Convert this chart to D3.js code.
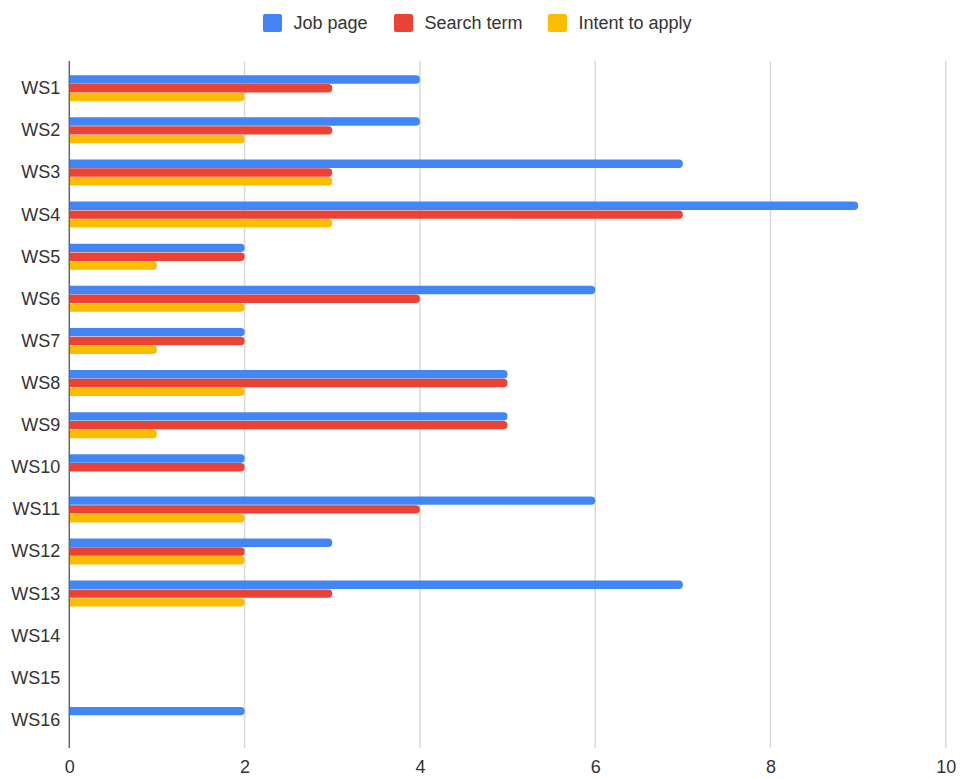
<!DOCTYPE html>
<html>
<head>
<meta charset="utf-8">
<script src="https://cdn.jsdelivr.net/npm/d3@7"></script>
<style>
  body { margin: 0; background: #fff; }
  text { font-family: Arial, "Liberation Sans", sans-serif; }
</style>
</head>
<body>
<svg width="961" height="779"></svg>
<script>
"use strict";

// Chart data
var categories = ["WS1", "WS2", "WS3", "WS4", "WS5", "WS6", "WS7", "WS8",
                  "WS9", "WS10", "WS11", "WS12", "WS13", "WS14", "WS15", "WS16"];
var seriesNames = ["Job page", "Search term", "Intent to apply"];
var jobPage     = [4, 4, 7, 9, 2, 6, 2, 5, 5, 2, 6, 3, 7, 0, 0, 2];
var searchTerm  = [3, 3, 3, 7, 2, 4, 2, 5, 5, 2, 4, 2, 3, 0, 0, 0];
var intentApply = [2, 2, 3, 3, 1, 2, 1, 2, 1, 0, 2, 2, 2, 0, 0, 0];
var xTicks = [0, 2, 4, 6, 8, 10];
var colors = ["#4285f4", "#ea4335", "#fbbc04"];

var svg = d3.select("svg");

// Scales
var xScale = d3.scaleLinear()
    .domain([0, 10])
    .range([69.3, 945.8]);

var yScale = d3.scaleBand()
    .domain(categories)
    .range([67.4, 741.2]);

var inner = d3.scaleBand()
    .domain(seriesNames)
    .range([0, 26.4]);

// Gridlines
svg.append("g")
    .attr("class", "grid")
    .selectAll("line")
    .data(xTicks.slice(1))
    .enter().append("line")
    .attr("x1", function(d) { return xScale(d); })
    .attr("x2", function(d) { return xScale(d); })
    .attr("y1", 61)
    .attr("y2", 748)
    .attr("stroke", "#d9d9d9")
    .attr("stroke-width", 1.5);

// Build rows for each series
var series = [jobPage, searchTerm, intentApply];
var rows = [];
categories.forEach(function(c, i) {
    series.forEach(function(s, j) {
        if (s[i] > 0) {
            rows.push({cat: c, name: seriesNames[j], value: s[i], color: colors[j]});
        }
    });
});

// Bar with rounded right end
var barPath = function(d) {
    var x0 = xScale(0);
    var x1 = xScale(d.value);
    var h = inner.bandwidth() - 0.4;
    var y0 = yScale(d.cat) + yScale.bandwidth() / 2 - 13.2 + inner(d.name);
    var r = Math.min(4, h / 2);
    return "M" + x0 + "," + y0 +
        "H" + (x1 - r) +
        "A" + r + "," + r + " 0 0 1 " + x1 + "," + (y0 + r) +
        "V" + (y0 + h - r) +
        "A" + r + "," + r + " 0 0 1 " + (x1 - r) + "," + (y0 + h) +
        "H" + x0 + "Z";
};

svg.append("g")
    .attr("class", "bars")
    .selectAll("path")
    .data(rows)
    .enter().append("path")
    .attr("d", barPath)
    .attr("fill", function(d) { return d.color; });

// Axis line at zero
svg.append("line")
    .attr("x1", xScale(0))
    .attr("x2", xScale(0))
    .attr("y1", 61)
    .attr("y2", 748)
    .attr("stroke", "#666")
    .attr("stroke-width", 1.5);

// Category labels
var yAxis = d3.axisLeft(yScale).tickSize(0).tickPadding(9);
var yg = svg.append("g")
    .attr("transform", "translate(" + xScale(0) + ",0)")
    .call(yAxis);
yg.select(".domain").remove();
yg.selectAll("text")
    .attr("font-size", 18)
    .attr("fill", "#333")
    .style("font-family", "Arial, 'Liberation Sans', sans-serif");

// X tick labels
var xAxis = d3.axisBottom(xScale).tickValues(xTicks).tickSize(0).tickPadding(12);
var xg = svg.append("g")
    .attr("transform", "translate(0,748)")
    .call(xAxis);
xg.select(".domain").remove();
xg.selectAll("text")
    .attr("font-size", 18)
    .attr("fill", "#333")
    .style("font-family", "Arial, 'Liberation Sans', sans-serif");

// Legend
var legendX = [263, 394, 548];
var legend = svg.append("g")
    .attr("class", "legend")
    .selectAll("g")
    .data(seriesNames)
    .enter().append("g")
    .attr("transform", function(d, i) { return "translate(" + legendX[i] + ",14)"; });

legend.append("rect")
    .attr("width", 19)
    .attr("height", 18)
    .attr("rx", 2)
    .attr("fill", function(d, i) { return colors[i]; });

legend.append("text")
    .attr("x", 30.5)
    .attr("y", 15)
    .attr("font-size", 18)
    .attr("fill", "#333")
    .text(function(d) { return d; });
</script>
</body>
</html>
